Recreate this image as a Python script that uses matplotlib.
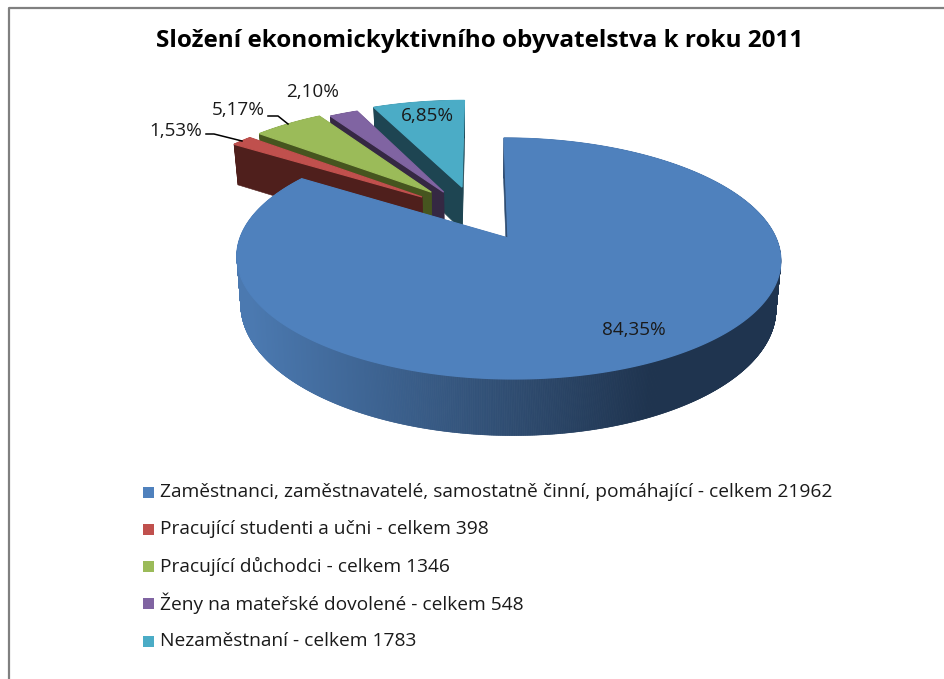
import numpy as np
import matplotlib
matplotlib.use('Agg')
import matplotlib.pyplot as plt

# Data
categories = ['Zaměstnanci, zaměstnavatelé, samostatně činní, pomáhající',
              'Pracující studenti a učni',
              'Pracující důchodci',
              'Ženy na mateřské dovolené',
              'Nezaměstnaní']
values = [21962, 398, 1346, 548, 1783]
pct_labels = ['84,35%', '1,53%', '5,17%', '2,10%', '6,85%']
title = 'Složení ekonomickyktivního obyvatelstva k roku 2011'

top_colors = ['#4f81bd', '#c0504d', '#9bbb59', '#8064a2', '#4bacc6']
side_colors = ['#1f344f', '#4f1f1c', '#46551f', '#352843', '#1e4552']
# where each slice apex sits after the explosion (pie units)
apex_u = [(0.1045, 0.0), (-0.23, 0.373), (-0.195, 0.42), (-0.145, 0.42), (-0.0725, 0.47)]

plt.rcParams['font.family'] = ['Open Sans', 'DejaVu Sans']
fig = plt.figure(figsize=(9.44, 6.79), dpi=100)
ax = fig.add_axes([0, 0, 1, 1])
ax.set_xlim(0, 944)
ax.set_ylim(679, 0)
ax.axis('off')

CX, CY, A, B, K, DEPTH = 480, 238, 268, 117, 0.17, 47


def project(u, v, z=0.0):
    d = 1 + K * v
    sx = 1 - 0.016 * z
    return CX + A * u * sx / d, CY - B * v / d + z * DEPTH / d


def slice_points(start, end, apex):
    t = np.radians(np.linspace(start, end, max(int((end - start) * 8), 12)))
    u = np.concatenate([[apex[0]], apex[0] + np.sin(t)])
    v = np.concatenate([[apex[1]], apex[1] + np.cos(t)])
    return u, v


def side_color(i, x):
    if i != 0:
        return side_colors[i]
    # gradient on the big slice rim
    f = np.clip((x - 250) / (650 - 250), 0, 1)
    c0 = np.array([0x4b, 0x79, 0xb0]) / 255
    c1 = np.array(matplotlib.colors.to_rgb(side_colors[0]))
    return tuple(c0 + (c1 - c0) * f)


# Slices
total = sum(values)
angles = np.cumsum([0] + [360 * v / total for v in values])
order = [4, 3, 2, 1, 0]
for i in order:
    u, v = slice_points(angles[i], angles[i + 1], apex_u[i])
    xt, yt = project(u, v, 0)
    xb, yb = project(u, v, 1)
    n = len(u)
    for j in range(n):
        k = (j + 1) % n
        c = side_color(i, (xt[j] + xt[k]) / 2)
        ax.fill([xt[j], xt[k], xb[k], xb[j]], [yt[j], yt[k], yb[k], yb[j]],
                color=c, lw=0.4, zorder=2)
    ax.fill(xt, yt, color=top_colors[i], lw=0.9, zorder=2)

# Percent labels
label_pos = [(634, 330), (176, 131), (238, 110), (313, 92), (427, 116)]
for lab, (x, y) in zip(pct_labels, label_pos):
    ax.text(x, y, lab, fontsize=13.6, color='#1a1a1a', ha='center', va='center', zorder=3)

# Leader lines
ax.plot([206, 214, 242], [134, 134, 141], color='black', lw=1.1, zorder=3)
ax.plot([268, 278, 288], [116, 116, 124], color='black', lw=1.1, zorder=3)

ax.text(480, 41, title, fontsize=17.5, fontweight='bold', color='black', ha='center', va='center')

# Legend
legend_y = [492, 529, 566, 603, 641]
for name, val, col, y in zip(categories, values, top_colors, legend_y):
    ax.fill([143, 154, 154, 143], [y - 5.5, y - 5.5, y + 5.5, y + 5.5], color=col, lw=0)
    ax.text(160, y, name + ' - celkem ' + str(val), fontsize=13.8, color='#1a1a1a',
            ha='left', va='center')

# Frame of the picture
ax.plot([9, 9, 944], [679, 7.5, 7.5], color='#808080', lw=1.6)

fig.savefig('out.png', dpi=100)
